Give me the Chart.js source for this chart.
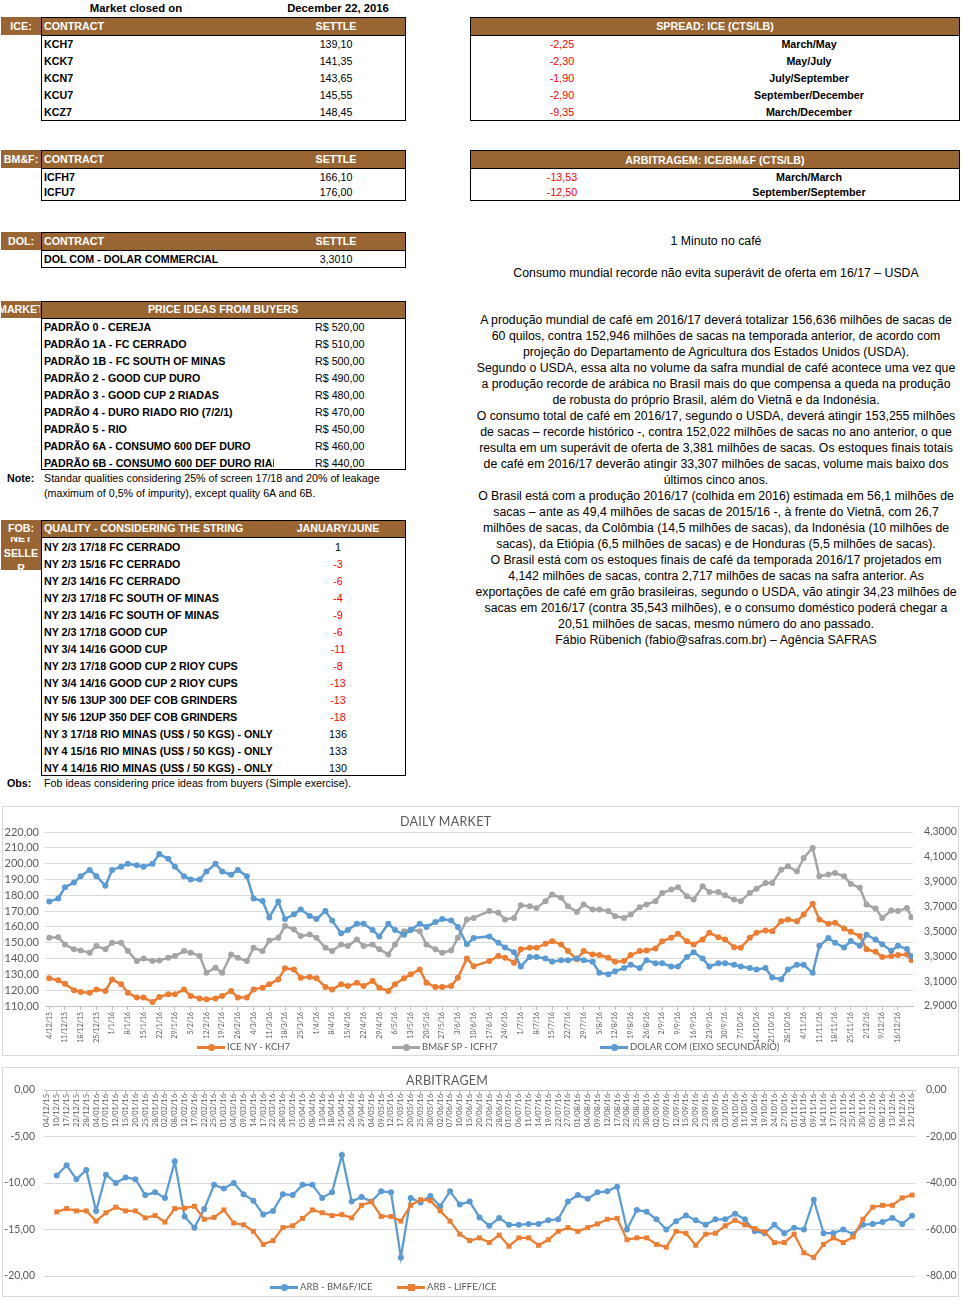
<!DOCTYPE html>
<html>
<head>
<meta charset="utf-8">
<script src="https://cdn.jsdelivr.net/npm/chart.js@4.4.1/dist/chart.umd.min.js"></script>
<style>
body{margin:0;width:961px;height:1301px;position:relative;background:#fff;font-family:"Liberation Sans",Arial,sans-serif;color:#000;overflow:hidden}
.a{position:absolute;white-space:nowrap}
.c{text-align:center}
.hb{background:#996633}
.ht{color:#fff;font-weight:bold;font-size:10.7px;line-height:18px}
.bx{border:1px solid #000}
.ln{background:#000;height:1px}
.r{font-size:10.7px;font-weight:bold;line-height:17px}
.v{font-size:10.7px;line-height:17px}
.red{color:#f00}
.chartbox{position:absolute;border:1px solid #d9d9d9}
.ttl{position:absolute;font-family:Lato,sans-serif;font-size:12.5px;color:#595959;letter-spacing:0.3px;white-space:nowrap}
.lgt{position:absolute;font-family:Lato,sans-serif;font-size:9.5px;color:#595959;line-height:14px;white-space:nowrap}
.lgl{position:absolute;width:28px;height:3px}
.lgm{position:absolute;width:7px;height:7px}
#news{position:absolute;left:470px;top:312px;width:492px;text-align:center;font-size:12.3px;line-height:16px;white-space:nowrap}
</style>
</head>
<body>
<div id="page"></div>

<div id="news">A produção mundial de café em 2016/17 deverá totalizar 156,636 milhões de sacas de<br>60 quilos, contra 152,946 milhões de sacas na temporada anterior, de acordo com<br>projeção do Departamento de Agricultura dos Estados Unidos (USDA).<br>Segundo o USDA, essa alta no volume da safra mundial de café acontece uma vez que<br>a produção recorde de arábica no Brasil mais do que compensa a queda na produção<br>de robusta do próprio Brasil, além do Vietnã e da Indonésia.<br>O consumo total de café em 2016/17, segundo o USDA, deverá atingir 153,255 milhões<br>de sacas – recorde histórico -, contra 152,022 milhões de sacas no ano anterior, o que<br>resulta em um superávit de oferta de 3,381 milhões de sacas. Os estoques finais totais<br>de café em 2016/17 deverão atingir 33,307 milhões de sacas, volume mais baixo dos<br>últimos cinco anos.<br>O Brasil está com a produção 2016/17 (colhida em 2016) estimada em 56,1 milhões de<br>sacas – ante as 49,4 milhões de sacas de 2015/16 -, à frente do Vietnã, com 26,7<br>milhões de sacas, da Colômbia (14,5 milhões de sacas), da Indonésia (10 milhões de<br>sacas), da Etiópia (6,5 milhões de sacas) e de Honduras (5,5 milhões de sacas).<br>O Brasil está com os estoques finais de café da temporada 2016/17 projetados em<br>4,142 milhões de sacas, contra 2,717 milhões de sacas na safra anterior. As<br>exportações de café em grão brasileiras, segundo o USDA, vão atingir 34,23 milhões de<br>sacas em 2016/17 (contra 35,543 milhões), e o consumo doméstico poderá chegar a<br>20,51 milhões de sacas, mesmo número do ano passado.<br>Fábio Rübenich (fabio@safras.com.br) – Agência SAFRAS</div>

<div class="chartbox" style="left:2px;top:806px;width:955px;height:248px"></div>
<canvas id="daily" width="955" height="248" style="position:absolute;left:3px;top:807px"></canvas>
<div class="ttl" style="left:400px;top:814px">DAILY MARKET</div>
<div class="lgl" style="left:197px;top:1046px;background:#ED7D31"></div><div class="lgm" style="left:208px;top:1044px;background:#ED7D31;border-radius:50%"></div>
<div class="lgt" style="left:227px;top:1040px">ICE NY - KCH7</div>
<div class="lgl" style="left:392px;top:1046px;background:#A5A5A5"></div><div class="lgm" style="left:403px;top:1044px;background:#A5A5A5;border-radius:50%"></div>
<div class="lgt" style="left:422px;top:1040px">BM&amp;F SP - ICFH7</div>
<div class="lgl" style="left:600px;top:1046px;background:#5B9BD5"></div><div class="lgm" style="left:611px;top:1044px;background:#5B9BD5;border-radius:50%"></div>
<div class="lgt" style="left:630px;top:1040px">DOLAR COM (EIXO SECUNDÁRIO)</div>

<div class="chartbox" style="left:2px;top:1067px;width:955px;height:228px"></div>
<canvas id="arb" width="955" height="228" style="position:absolute;left:3px;top:1068px"></canvas>
<div class="ttl" style="left:406px;top:1073px">ARBITRAGEM</div>
<div class="lgl" style="left:270px;top:1286px;background:#5B9BD5"></div><div class="lgm" style="left:281px;top:1284px;background:#5B9BD5;border-radius:50%"></div>
<div class="lgt" style="left:300px;top:1280px">ARB - BM&amp;F/ICE</div>
<div class="lgl" style="left:397px;top:1286px;background:#ED7D31"></div><div class="lgm" style="left:408px;top:1284px;background:#ED7D31"></div>
<div class="lgt" style="left:427px;top:1280px">ARB - LIFFE/ICE</div>

<script>
// tabelas do topo
const iceContracts = ['KCH7', 'KCK7', 'KCN7', 'KCU7', 'KCZ7'];
const iceSettle = ['139,10', '141,35', '143,65', '145,55', '148,45'];
const bmfContracts = ['ICFH7', 'ICFU7'];
const bmfSettle = ['166,10', '176,00'];
const spreadValues = ['-2,25', '-2,30', '-1,90', '-2,90', '-9,35'];
const spreadNames = ['March/May', 'May/July', 'July/September', 'September/December', 'March/December'];
const arbValues = ['-13,53', '-12,50'];
const arbNames = ['March/March', 'September/September'];
const padroes = ['PADRÃO 0 - CEREJA', 'PADRÃO 1A - FC CERRADO', 'PADRÃO 1B - FC SOUTH OF MINAS', 'PADRÃO 2 - GOOD CUP DURO',
  'PADRÃO 3 - GOOD CUP 2 RIADAS', 'PADRÃO 4 - DURO RIADO RIO (7/2/1)', 'PADRÃO 5 - RIO', 'PADRÃO 6A - CONSUMO 600 DEF DURO',
  'PADRÃO 6B - CONSUMO 600 DEF DURO RIADO'];
const padraoPrices = ['R$ 520,00', 'R$ 510,00', 'R$ 500,00', 'R$ 490,00', 'R$ 480,00', 'R$ 470,00', 'R$ 450,00', 'R$ 460,00', 'R$ 440,00'];
const fobQualities = ['NY 2/3 17/18 FC CERRADO', 'NY 2/3 15/16 FC CERRADO', 'NY 2/3 14/16 FC CERRADO', 'NY 2/3 17/18 FC SOUTH OF MINAS',
  'NY 2/3 14/16 FC SOUTH OF MINAS', 'NY 2/3 17/18 GOOD CUP', 'NY 3/4 14/16 GOOD CUP', 'NY 2/3 17/18 GOOD CUP 2 RIOY CUPS',
  'NY 3/4 14/16 GOOD CUP 2 RIOY CUPS', 'NY 5/6 13UP 300 DEF COB GRINDERS', 'NY 5/6 12UP 350 DEF COB GRINDERS',
  'NY 3 17/18 RIO MINAS (US$ / 50 KGS) - ONLY', 'NY 4 15/16 RIO MINAS (US$ / 50 KGS) - ONLY', 'NY 4 14/16 RIO MINAS (US$ / 50 KGS) - ONLY'];
const fobValues = [1, -3, -6, -4, -9, -6, -11, -8, -13, -13, -18, 136, 133, 130];

// grafico DAILY MARKET: dias desde 4/12/15
const days = [0, 4, 7, 11, 14, 18, 21, 25, 28, 32, 35, 39, 42, 46, 49, 53, 56, 60, 63, 67, 70, 74, 77, 81, 84, 88, 91, 95, 98,
  102, 105, 109, 112, 116, 119, 123, 126, 130, 133, 137, 140, 144, 147, 151, 154, 158, 161, 165, 168, 172, 175, 179, 182, 186, 189,
  196, 200, 203, 207, 210, 214, 217, 221, 224, 228, 231, 235, 238, 242, 245, 249, 252, 256, 259, 263, 266, 270, 273, 277, 280,
  284, 287, 291, 294, 298, 301, 305, 308, 312, 315, 319, 322, 326, 329, 333, 336, 340, 343, 347, 350, 354, 357, 361, 364, 368,
  371, 375, 378, 382, 384];
const kch7 = [127.5, 126.2, 124, 120, 118.8, 118.4, 120.5, 119.5, 126.8, 123.7, 118.4, 115.3, 115.3, 112.5, 115.7, 117.4, 117.4,
  120.5, 116.3, 114.8, 114.2, 114.8, 116.3, 119.5, 115.3, 115.3, 120.5, 121.6, 123.7, 126.8, 133.8, 133.1, 127.9, 128.3, 127.5,
  122, 120.5, 123.7, 122.6, 124.7, 122.6, 125.8, 121.6, 119.5, 123.7, 127.5, 130, 133.1, 124.7, 122, 122, 122.6, 127.9, 140.1, 135.2,
  138.4, 141.6, 140.5, 137.4, 145.8, 146.8, 146.8, 149.3, 151, 148.9, 144.7, 139.5, 144.7, 142.6, 142.2, 140.5, 138, 138.4, 142.2,
  144.7, 145.1, 146.4, 151, 153.1, 155.6, 151, 148.9, 152.1, 156.3, 153.5, 152.1, 147.2, 146.8, 153.1, 156.3, 157.8, 157.3, 163.6,
  164.7, 163.6, 167.8, 174.6, 164.7, 162, 162.6, 159, 156.9, 154.2, 145.8, 144.3, 140.9, 141.6, 142.2, 142.6, 139.1];
const icfh7 = [153.1, 153.5, 148.9, 145.8, 145.1, 143.7, 147.9, 145.8, 150, 150, 144.7, 138.4, 140.1, 138.4, 138.8, 140.5, 141.6,
  144.7, 143.7, 141.6, 131, 134.2, 131, 142.6, 140.5, 138.4, 146.8, 144.7, 151.4, 153.1, 160.5, 158.4, 154.2, 155.2, 153.1, 146.8,
  144.7, 148.9, 147.9, 152.1, 147.9, 148.9, 145.8, 142.6, 148.9, 157.3, 158.4, 157.3, 148.9, 145.8, 143.7, 145.1, 153.1, 164.7, 165.7,
  170, 168.9, 164.7, 165.7, 173.7, 173.1, 172, 176.3, 180.5, 178.4, 173.1, 169.5, 174.2, 171, 171, 170, 166.8, 165.7, 167.8, 172.5,
  174.2, 176.3, 181.5, 183.6, 185.1, 179.4, 177.3, 185.7, 182.1, 182.1, 180, 177.3, 176.3, 181.5, 184.2, 187.8, 187.8, 196.2, 198.3,
  195.2, 203.6, 209.9, 192, 193.1, 194.1, 192, 187.2, 184.7, 174.2, 171.6, 165.7, 170.4, 170, 172, 166.1];
const dolar = [3.740, 3.765, 3.855, 3.893, 3.944, 3.995, 3.944, 3.867, 3.995, 4.020, 4.045, 4.033, 4.020, 4.045, 4.122, 4.084,
  4.020, 3.944, 3.918, 3.918, 3.982, 4.045, 3.982, 3.956, 3.995, 3.944, 3.765, 3.745, 3.613, 3.740, 3.600, 3.638, 3.676, 3.625,
  3.600, 3.664, 3.587, 3.485, 3.511, 3.562, 3.562, 3.511, 3.460, 3.562, 3.511, 3.473, 3.511, 3.562, 3.536, 3.575, 3.600, 3.587,
  3.536, 3.396, 3.447,
  3.460, 3.409, 3.371, 3.333, 3.218, 3.295, 3.295, 3.282, 3.256, 3.269, 3.269, 3.282, 3.269, 3.256, 3.167, 3.155, 3.180, 3.205,
  3.231, 3.205, 3.269, 3.244, 3.244, 3.218, 3.218, 3.295, 3.333, 3.282, 3.218, 3.244, 3.244, 3.231, 3.218, 3.205, 3.193, 3.205,
  3.129, 3.116, 3.193, 3.231, 3.231, 3.167, 3.384, 3.447, 3.409, 3.371, 3.422, 3.384, 3.473, 3.435, 3.396, 3.345, 3.384, 3.358, 3.301];

// grafico ARBITRAGEM
const arbDates = ['04/12/15', '10/12/15', '17/12/15', '22/12/15', '28/12/15', '04/01/16', '07/01/16', '12/01/16', '15/01/16', '20/01/16',
  '25/01/16', '28/01/16', '02/02/16', '08/02/16', '12/02/16', '17/02/16', '22/02/16', '25/02/16', '01/03/16', '04/03/16',
  '09/03/16', '14/03/16', '17/03/16', '22/03/16', '28/03/16', '31/03/16', '05/04/16', '08/04/16', '13/04/16', '18/04/16',
  '21/04/16', '26/04/16', '29/04/16', '04/05/16', '09/05/16', '12/05/16', '17/05/16', '20/05/16', '25/05/16', '30/05/16',
  '02/06/16', '07/06/16', '10/06/16', '15/06/16', '20/06/16', '23/06/16', '28/06/16', '01/07/16', '06/07/16', '11/07/16',
  '14/07/16', '19/07/16', '22/07/16', '27/07/16', '01/08/16', '04/08/16', '09/08/16', '12/08/16', '17/08/16', '22/08/16',
  '25/08/16', '30/08/16', '02/09/16', '07/09/16', '12/09/16', '15/09/16', '20/09/16', '23/09/16', '28/09/16', '03/10/16',
  '06/10/16', '11/10/16', '14/10/16', '19/10/16', '24/10/16', '27/10/16', '01/11/16', '04/11/16', '09/11/16', '14/11/16',
  '17/11/16', '22/11/16', '25/11/16', '30/11/16', '05/12/16', '08/12/16', '13/12/16', '16/12/16', '21/12/16'];
const arbBmfIce = [null, -9.2, -8.1, -9.6, -8.6, -13.0, -9.1, -10.0, -9.4, -9.6,
  -11.3, -11.0, -11.6, -7.7, -13.6, -14.8, -12.8, -10.2, -10.6, -10.0,
  -11.2, -11.9, -13.4, -13.0, -11.2, -11.3, -10.2, -10.2, -11.6, -11.0,
  -7.0, -12.0, -11.5, -12.0, -10.9, -11.0, -18.0, -11.6, -12.1, -11.4,
  -12.5, -10.9, -12.3, -12.0, -13.7, -14.6, -13.75, -14.5, -14.5, -14.4,
  -14.4, -14.0, -13.9, -12.0, -11.3, -11.7, -11.0, -10.9, -10.4, -15.0,
  -12.9, -13.1, -13.9, -15.0, -14.1, -13.5, -14.0, -14.5, -13.9, -13.9,
  -13.3, -13.9, -15.2, -15.4, -14.5, -15.4, -14.8, -15.0, -11.8, -15.4,
  -15.4, -15.0, -15.5, -14.5, -14.4, -14.2, -13.75, -14.4, -13.53];
const arbLiffeIce = [null, -52.4, -51.0, -52.0, -52.0, -56.4, -52.8, -50.4, -52.0, -52.0,
  -55.0, -54.0, -56.8, -51.0, -50.8, -50.0, -55.6, -54.8, -51.6, -57.2,
  -58.0, -60.8, -66.4, -64.8, -59.2, -58.4, -55.2, -51.6, -52.8, -54.0,
  -53.6, -55.0, -49.6, -48.0, -54.4, -54.4, -56.4, -49.6, -47.2, -47.6,
  -52.0, -56.4, -62.0, -64.8, -63.6, -65.6, -62.4, -67.2, -63.6, -63.6,
  -66.8, -64.4, -60.8, -59.2, -60.8, -59.2, -57.6, -55.6, -55.2, -64.4,
  -63.6, -63.6, -66.4, -67.6, -60.8, -61.6, -66.8, -62.0, -61.6, -58.4,
  -56.0, -58.0, -59.6, -61.0, -65.6, -65.6, -62.0, -70.0, -72.0, -66.4,
  -63.6, -65.6, -63.2, -55.6, -50.4, -49.6, -49.6, -46.4, -45.2];

const page = document.getElementById('page');
function put(text, left, top, cls, w, h, css) {
  const d = document.createElement('div');
  d.className = 'a ' + (cls || '');
  d.style.left = left + 'px';
  d.style.top = top + 'px';
  if (w) d.style.width = w + 'px';
  if (h) d.style.height = h + 'px';
  if (css) d.style.cssText += css;
  d.textContent = text;
  page.appendChild(d);
  return d;
}

put('Market closed on', 60, 1, 'c', 152, 0, 'font-size:11.3px;font-weight:bold;line-height:14px');
put('December 22, 2016', 268, 1, 'c', 140, 0, 'font-size:11.3px;font-weight:bold;line-height:14px');

// ICE
put('', 1, 17, 'hb', 405, 18);
put('ICE:', 1, 17, 'ht c', 40);
put('CONTRACT', 44, 17, 'ht');
put('SETTLE', 296, 17, 'ht c', 80);
put('', 41, 17, 'bx', 363, 102);
put('', 41, 35, 'ln', 365);
iceContracts.forEach((c, i) => { put(c, 44, 36 + 17 * i, 'r'); put(iceSettle[i], 296, 36 + 17 * i, 'v c', 80); });

// BM&F
put('', 1, 150, 'hb', 405, 18);
put('BM&F:', 1, 150, 'ht c', 40);
put('CONTRACT', 44, 150, 'ht');
put('SETTLE', 296, 150, 'ht c', 80);
put('', 41, 150, 'bx', 363, 49);
put('', 41, 168, 'ln', 365);
bmfContracts.forEach((c, i) => { put(c, 44, 169 + 15 * i, 'r', 0, 0, 'line-height:16px'); put(bmfSettle[i], 296, 169 + 15 * i, 'v c', 80, 0, 'line-height:16px'); });

// DOL
put('', 1, 232, 'hb', 405, 18);
put('DOL:', 1, 232, 'ht c', 40);
put('CONTRACT', 44, 232, 'ht');
put('SETTLE', 296, 232, 'ht c', 80);
put('', 41, 232, 'bx', 363, 34);
put('', 41, 250, 'ln', 365);
put('DOL COM - DOLAR COMMERCIAL', 44, 251, 'r');
put('3,3010', 296, 251, 'v c', 80);

// PRICE IDEAS
put('', 1, 301, 'hb', 405, 17);
put('MARKET', -2, 301, 'ht', 42, 17, 'overflow:hidden;line-height:17px');
put('PRICE IDEAS FROM BUYERS', 41, 301, 'ht c', 364, 17, 'line-height:17px');
put('', 41, 301, 'bx', 363, 167);
put('', 41, 318, 'ln', 365);
padroes.forEach((p, i) => {
  const t = i < 8 ? 319 + 17 * i : 455;
  put(p, 44, t, 'r', 230, 0, 'overflow:hidden');
  put(padraoPrices[i], 315, t, 'v');
});
put('Note:', 7, 470, 'r');
put('Standar qualities considering 25% of screen 17/18 and 20% of leakage', 44, 470, 'v');
put('(maximum of 0,5% of impurity), except quality 6A and 6B.', 44, 485, 'v');

// FOB
put('', 1, 520, 'hb', 405, 17);
put('FOB:', 1, 520, 'ht c', 40, 17, 'line-height:17px');
put('QUALITY - CONSIDERING THE STRING', 44, 520, 'ht', 0, 0, 'line-height:17px');
put('JANUARY/JUNE', 288, 520, 'ht c', 100, 0, 'line-height:17px');
const ns = put('', 1, 537, 'hb', 40, 33, 'overflow:hidden;display:flex;align-items:center;justify-content:center');
ns.innerHTML = '<div style="color:#fff;font-weight:bold;font-size:10.7px;line-height:15px;text-align:center">NET<br>SELLE<br>R</div>';
put('', 41, 520, 'bx', 363, 254);
put('', 41, 537, 'ln', 365);
fobQualities.forEach((q, i) => {
  put(q, 44, 539 + 17 * i, 'r');
  put(String(fobValues[i]), 298, 539 + 17 * i, 'v c' + (fobValues[i] < 0 ? ' red' : ''), 80);
});
put('Obs:', 7, 775, 'r');
put('Fob ideas considering price ideas from buyers (Simple exercise).', 44, 775, 'v');

// SPREAD
put('', 470, 17, 'hb', 490, 18);
put('SPREAD: ICE (CTS/LB)', 470, 17, 'ht c', 490);
put('', 470, 17, 'bx', 488, 102);
put('', 470, 35, 'ln', 490);
spreadValues.forEach((s, i) => { put(s, 522, 36 + 17 * i, 'v c red', 80); put(spreadNames[i], 689, 36 + 17 * i, 'r c', 240); });

// ARBITRAGEM tabela
put('', 470, 150, 'hb', 490, 18);
put('ARBITRAGEM: ICE/BM&F (CTS/LB)', 470, 151, 'ht c', 490);
put('', 470, 150, 'bx', 488, 49);
put('', 470, 168, 'ln', 490);
arbValues.forEach((s, i) => { put(s, 522, 169 + 15 * i, 'v c red', 80, 0, 'line-height:16px'); put(arbNames[i], 689, 169 + 15 * i, 'r c', 240, 0, 'line-height:16px'); });

put('1 Minuto no café', 470, 233, 'c', 492, 0, 'font-size:12.3px;line-height:16px');
put('Consumo mundial recorde não evita superávit de oferta em 16/17 – USDA', 470, 265, 'c', 492, 0, 'font-size:12.3px;line-height:16px');

// graficos
Chart.defaults.font.family = 'Lato, "Liberation Sans", sans-serif';
Chart.defaults.color = '#595959';
const ORANGE = '#ED7D31', GRAY = '#A5A5A5', BLUE = '#5B9BD5';
const comma = (v, n) => v.toFixed(n).replace('.', ',');
function dayLabel(v) {
  const d = new Date(2015, 11, 4 + v);
  return d.getDate() + '/' + (d.getMonth() + 1) + '/' + String(d.getFullYear()).slice(2);
}

new Chart(document.getElementById('daily'), {
  type: 'line',
  data: {
    datasets: [
      { label: 'ICE NY - KCH7', data: days.map((d, i) => ({ x: d, y: kch7[i] })), borderColor: ORANGE, backgroundColor: ORANGE, yAxisID: 'y', order: 2 },
      { label: 'BM&F SP - ICFH7', data: days.map((d, i) => ({ x: d, y: icfh7[i] })), borderColor: GRAY, backgroundColor: GRAY, yAxisID: 'y', order: 1 },
      { label: 'DOLAR COM (EIXO SECUNDÁRIO)', data: days.map((d, i) => ({ x: d, y: dolar[i] })), borderColor: BLUE, backgroundColor: BLUE, yAxisID: 'y1', order: 0 }
    ]
  },
  options: {
    responsive: false,
    animation: false,
    layout: { padding: { top: 25 } },
    plugins: { legend: { display: false }, tooltip: { enabled: false } },
    elements: { line: { borderWidth: 2.5, tension: 0 }, point: { radius: 3, borderWidth: 0 } },
    scales: {
      x: {
        type: 'linear', min: -1.9, max: 384.7,
        afterFit: s => { s.height = 49; },
        grid: { drawOnChartArea: false, tickLength: 4, color: '#bfbfbf' },
        border: { color: '#bfbfbf' },
        ticks: { stepSize: 7, includeBounds: false, autoSkip: false, minRotation: 90, maxRotation: 90, padding: 2, font: { size: 7 }, callback: v => dayLabel(v) }
      },
      y: {
        min: 110, max: 220,
        afterFit: s => { s.width = 42; },
        grid: { color: '#d9d9d9', drawTicks: false },
        border: { display: false },
        ticks: { stepSize: 10, autoSkip: false, padding: 6, font: { size: 11 }, callback: v => comma(v, 2) }
      },
      y1: {
        position: 'right', min: 2.9, max: 4.3,
        afterFit: s => { s.width = 45; },
        grid: { drawOnChartArea: false, drawTicks: false },
        border: { display: false },
        ticks: { stepSize: 0.2, autoSkip: false, padding: 11, font: { size: 10.5 }, callback: v => comma(v, 4) }
      }
    }
  }
});

new Chart(document.getElementById('arb'), {
  type: 'line',
  data: {
    datasets: [
      { label: 'ARB - BM&F/ICE', data: arbDates.map((d, i) => ({ x: i, y: arbBmfIce[i] })), borderColor: BLUE, backgroundColor: BLUE, yAxisID: 'y', pointStyle: 'circle', pointRadius: 3, order: 1 },
      { label: 'ARB - LIFFE/ICE', data: arbDates.map((d, i) => ({ x: i, y: arbLiffeIce[i] })), borderColor: ORANGE, backgroundColor: ORANGE, yAxisID: 'y1', pointStyle: 'rect', pointRadius: 3.5, order: 0 }
    ]
  },
  options: {
    responsive: false,
    animation: false,
    layout: { padding: { top: 22, bottom: 20 } },
    plugins: { legend: { display: false }, tooltip: { enabled: false } },
    elements: { line: { borderWidth: 2.25, tension: 0 }, point: { borderWidth: 0 } },
    scales: {
      x: {
        type: 'linear', position: { y: 0 }, min: -0.3, max: 88.3,
        grid: { drawOnChartArea: false, tickLength: 3, color: '#bfbfbf' },
        border: { color: '#bfbfbf' },
        ticks: { stepSize: 1, includeBounds: false, autoSkip: false, minRotation: 90, maxRotation: 90, padding: 1, font: { size: 7.5 }, callback: v => arbDates[v] }
      },
      y: {
        min: -20, max: 0,
        afterFit: s => { s.width = 41; },
        grid: { color: '#d9d9d9', drawTicks: false },
        border: { display: false },
        ticks: { stepSize: 5, autoSkip: false, padding: 9, font: { size: 10.5 }, callback: v => comma(v, 2) }
      },
      y1: {
        position: 'right', min: -80, max: 0,
        afterFit: s => { s.width = 43; },
        grid: { drawOnChartArea: false, drawTicks: false },
        border: { display: false },
        ticks: { stepSize: 20, autoSkip: false, padding: 11, font: { size: 10.5 }, callback: v => comma(v, 2) }
      }
    }
  }
});
</script>
</body>
</html>
